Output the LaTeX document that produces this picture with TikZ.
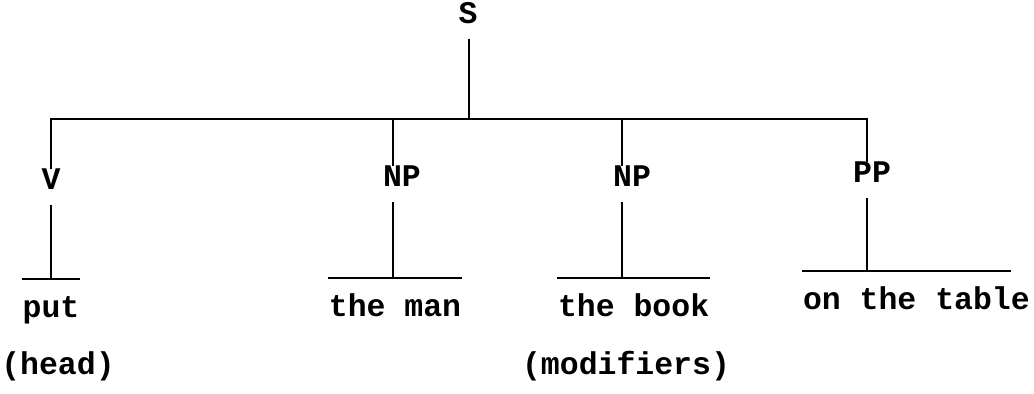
\documentclass[tikz,border=0pt]{standalone}
\usepackage{fontspec}
\newfontfamily\treefont{Liberation Mono}
\newcommand{\treetext}{\treefont\bfseries\fontsize{22.4pt}{26pt}\selectfont}
\tikzset{
  cat/.style = {font = \treetext, anchor = base, inner xsep = 0pt, inner ysep = 0.5mm, text height = 4.5mm, text depth = 3mm},
  leaf/.style = {font = \treetext, anchor = base, inner xsep = 0pt, inner ysep = 0pt, text height = 9.5mm, text depth = 2mm},
  note/.style = {font = \treetext, anchor = base}
}

\begin{document}
\begin{tikzpicture}[scale = 1, line width = 1.3pt]

			\useasboundingbox (0, 0) rectangle (25.85, 9.85);

			% categories
			\node[cat] (S) at (11.7, 9.25) {S};
			\node[cat] (V) at (1.275, 5.1) {V};
			\node[cat] (NPa) at (10.05, 5.175) {NP};
			\node[cat] (NPb) at (15.8, 5.175) {NP};
			\node[cat] (PP) at (21.8, 5.275) {PP};

			% branch points on the bar
			\coordinate (Sj) at (11.725, 6.875);
			\coordinate (jV) at (1.275, 6.875);
			\coordinate (jNPa) at (9.825, 6.875);
			\coordinate (jNPb) at (15.55, 6.875);
			\coordinate (jPP) at (21.675, 6.875);

			% words
			\node[leaf] (put) at (1.275, 1.9) {put};
			\node[leaf] (man) at (9.875, 1.925) {the man};
			\node[leaf] (book) at (15.84, 1.925) {the book};
			\node[leaf] (table) at (22.91, 2.1) {on the table};

			\node[note] (head) at (1.45, 0.475) {(head)};
			\node[note] (mods) at (15.65, 0.475) {(modifiers)};

			\draw (Sj |- S.south) -- (Sj);
			\draw (jV |- V.north) -- (jV) -- (jPP) -- (jPP |- PP.north); % bar
			\draw (jNPa) -- (jNPa |- NPa.north);
			\draw (jNPb) -- (jNPb |- NPb.north);

			\draw (jV |- V.south) -- (jV |- put.north);
			\draw (jNPa |- NPa.south) -- (jNPa |- man.north);
			\draw (jNPb |- NPb.south) -- (jNPb |- book.north);
			\draw (jPP |- PP.south) -- (jPP |- table.north);

			\draw (put.north west) -- (put.north east);
			\draw (man.north west) -- (man.north east);
			\draw (book.north west) -- (book.north east);
			\draw (table.north west) -- ([xshift = -5mm]table.north east);
		\end{tikzpicture}
\end{document}
